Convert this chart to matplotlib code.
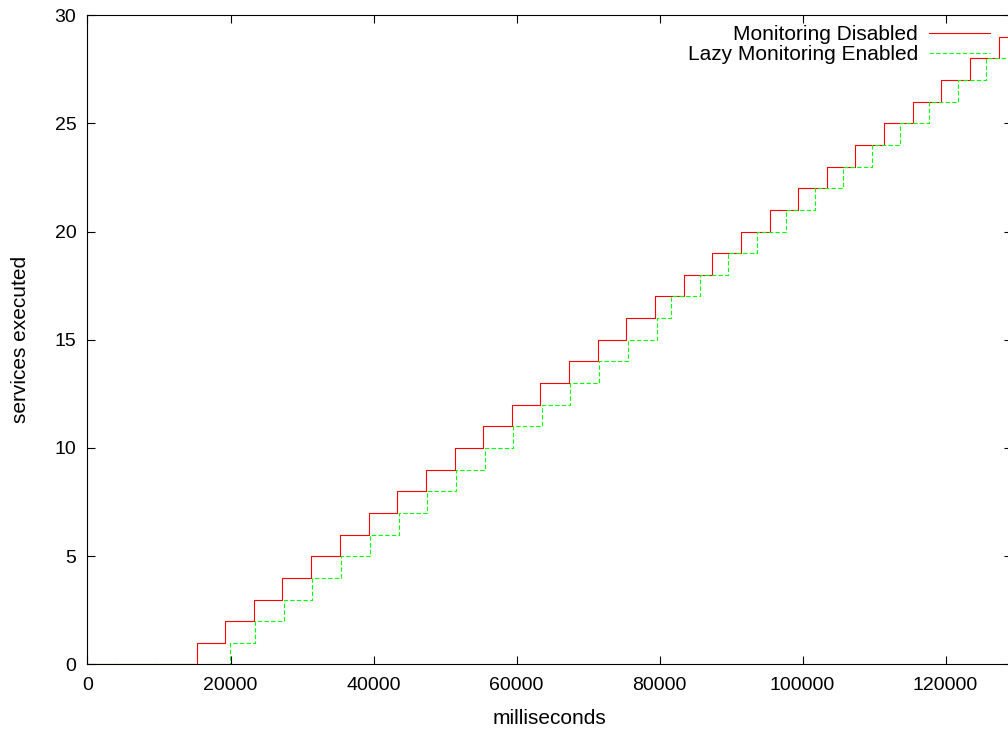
# gnuplot-style step chart: services executed over time

import matplotlib
matplotlib.use('Agg')
import matplotlib.pyplot as plt

plt.rcParams['font.family'] = ['Liberation Sans', 'DejaVu Sans']

# time (ms) at which the count steps up to 1, 2, 3, ...
disabledTimes = [15360, 19270, 23250, 27250, 31260, 35270, 39330, 43290, 47300, 51330,
                 55360, 59330, 63330, 67340, 71360, 75360, 79410, 83390, 87390, 91400,
                 95410, 99410, 103430, 107390, 111400, 115410, 119410, 123430, 127530]
lazyTimes = [19890, 23470, 27480, 31440, 35500, 39510, 43530, 47530, 51540, 55550,
             59510, 63530, 67530, 71540, 75600, 79610, 81610, 85620, 89620, 93680,
             97690, 101710, 105710, 109680, 113680, 117690, 121710, 125710]
xEnd = 129230

xTicks = [0, 20000, 40000, 60000, 80000, 100000, 120000]
yTicks = [0, 5, 10, 15, 20, 25, 30]


def stepSeries(times):
    xs = [0] + list(times) + [xEnd]
    ys = [0] + list(range(1, len(times) + 1)) + [len(times)]
    return xs, ys


fig = plt.figure(figsize=(10.08, 7.29), dpi=100)
# right border lies just past the picture edge, like the original crop
ax = fig.add_axes([0.0868, 0.0885, 0.9167, 0.8909])

xs, ys = stepSeries(disabledTimes)
ax.plot(xs, ys, drawstyle='steps-post', color='#ff0000', lw=0.8,
        label='Monitoring Disabled')
xs, ys = stepSeries(lazyTimes)
line, = ax.plot(xs, ys, drawstyle='steps-post', color='#00ff00', lw=0.8,
                label='Lazy Monitoring Enabled')
line.set_dashes((4, 2))

ax.set_xlim(0, xEnd)
ax.set_ylim(0, 30)
ax.set_xticks(xTicks)
ax.set_yticks(yTicks)
ax.tick_params(direction='in', length=6, width=0.8, labelsize=14, pad=8,
               top=True, right=True)
ax.tick_params(axis='x', pad=9)
for sp in ax.spines.values():
    sp.set_linewidth(0.8)

ax.set_xlabel('milliseconds', fontsize=15, labelpad=11)
ax.set_ylabel('services executed', fontsize=15, labelpad=18)

ax.legend(loc='upper right', bbox_to_anchor=(0.99, 1.004), frameon=False,
          markerfirst=False, fontsize=15, handlelength=2.9, handletextpad=0.55,
          labelspacing=0.05, borderaxespad=0.2)

fig.savefig('out.png', dpi=100)
